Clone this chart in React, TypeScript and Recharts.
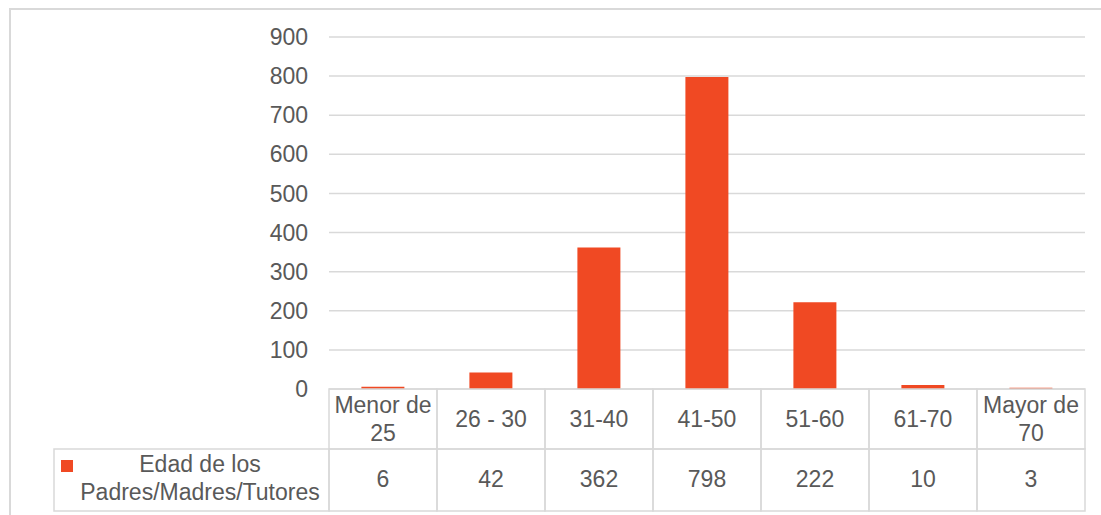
import { BarChart, Bar, XAxis, YAxis, CartesianGrid } from 'recharts';

// Edad de los Padres/Madres/Tutores
const categories = ['Menor de 25', '26 - 30', '31-40', '41-50', '51-60', '61-70', 'Mayor de 70'];
const values = [6, 42, 362, 798, 222, 10, 3];
const yTicks = [0, 100, 200, 300, 400, 500, 600, 700, 800, 900];
const seriesName = 'Edad de los Padres/Madres/Tutores';

const data = categories.map((c, i) => ({ category: c, value: values[i] }));

const FONT = '"Liberation Sans", Arial, sans-serif';
const TEXT = '#595959';
const LINE = '#d9d9d9';
const BAR = '#F04923';
const FS = 23;

const W = 1101;
const H = 515;
const PLOT_LEFT = 329;
const PLOT_RIGHT = 1085;
const CELL_W = (PLOT_RIGHT - PLOT_LEFT) / categories.length;
const ROW1 = 60;
const ROW2 = 62;
const LEGEND_LEFT = 54;

// baseline offset so that caps are centred on a given y
const capMid = FS * 0.36;

function wrap(label: string) {
  return label.replace(/ de /, ' de\n').split('\n');
}

function MultiLine({ x, cy, lines }: { x: number; cy: number; lines: string[] }) {
  const lh = 27.8;
  const start = cy - ((lines.length - 1) * lh) / 2;
  return (
    <text x={x} textAnchor="middle" fill={TEXT} fontSize={FS} fontFamily={FONT}>
      {lines.map((l, i) => (
        <tspan key={i} x={x} y={start + i * lh + capMid}>
          {l}
        </tspan>
      ))}
    </text>
  );
}

// data table cell drawn per x-axis tick
function TableTick(props: any) {
  const { x, y, index, payload } = props;
  const left = x - CELL_W / 2;
  const top = y;
  return (
    <g>
      <rect x={left} y={top} width={CELL_W} height={ROW1} fill="none" stroke={LINE} strokeWidth={1.5} />
      <rect x={left} y={top + ROW1} width={CELL_W} height={ROW2} fill="none" stroke={LINE} strokeWidth={1.5} />
      <MultiLine x={x} cy={top + ROW1 / 2} lines={wrap(String(payload.value))} />
      <MultiLine x={x} cy={top + ROW1 + ROW2 / 2 - 1} lines={[String(values[index])]} />
      {index === 0 && (
        <g>
          <rect
            x={LEGEND_LEFT}
            y={top + ROW1}
            width={left - LEGEND_LEFT}
            height={ROW2}
            fill="none"
            stroke={LINE}
            strokeWidth={1.5}
          />
          <rect x={61} y={top + ROW1 + 11} width={12} height={12} fill={BAR} />
          <MultiLine x={200} cy={top + ROW1 + 29} lines={['Edad de los', seriesName.replace('Edad de los ', '')]} />
        </g>
      )}
    </g>
  );
}

export default function App() {
  return (
    <div style={{ position: 'absolute', left: 0, top: 0, width: W, height: H, overflow: 'hidden', background: '#fff' }}>
      <div
        style={{
          position: 'absolute',
          left: 9,
          top: 8,
          width: 1200,
          height: 600,
          border: `2px solid ${LINE}`,
        }}
      />
      <div style={{ position: 'absolute', left: 0, top: 0 }}>
        <BarChart
          width={W}
          height={H}
          data={data}
          margin={{ top: 37, right: W - PLOT_RIGHT, bottom: 0, left: 0 }}
          barCategoryGap="30%"
        >
          <CartesianGrid vertical={false} stroke={LINE} strokeWidth={1.5} />
          <YAxis
            domain={[0, 900]}
            ticks={yTicks}
            width={PLOT_LEFT}
            axisLine={false}
            tickLine={false}
            tickSize={0}
            tickMargin={21}
            tick={{ fill: TEXT, fontSize: FS, fontFamily: FONT }}
          />
          <XAxis
            dataKey="category"
            height={H - 389}
            axisLine={false}
            tickLine={false}
            tickSize={0}
            tickMargin={0}
            interval={0}
            tick={<TableTick />}
          />
          <Bar dataKey="value" fill={BAR} isAnimationActive={false} />
        </BarChart>
      </div>
    </div>
  );
}
